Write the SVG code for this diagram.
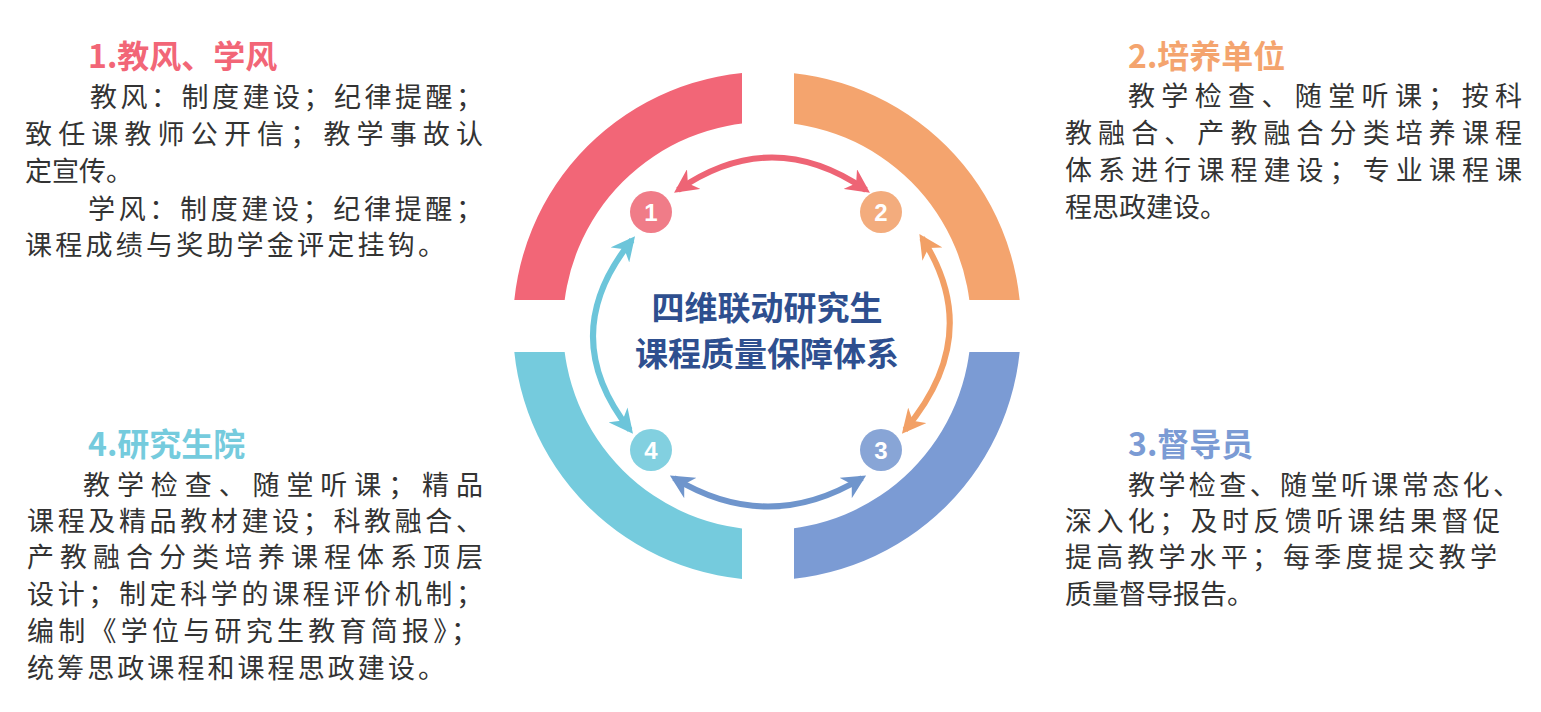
<svg xmlns="http://www.w3.org/2000/svg" width="1541" height="712" viewBox="0 0 1541 712">
<style>
.b{font-family:"Noto Sans CJK SC","Noto Sans",sans-serif;font-size:27px;fill:#333}
.t{font-family:"Noto Sans CJK SC","Noto Sans",sans-serif;font-size:32px;font-weight:bold}
.c{font-family:"Noto Sans CJK SC","Noto Sans",sans-serif;font-size:33px;font-weight:bold;fill:#2E4F8F;text-anchor:middle}
.n{font-family:"Liberation Sans",sans-serif;font-size:24px;font-weight:bold;fill:#fff;text-anchor:middle}
.a{fill:none;stroke-width:6}
</style>
<defs>
<clipPath id="q1"><rect x="0" y="0" width="742" height="300"/></clipPath>
<clipPath id="q2"><rect x="794" y="0" width="800" height="300"/></clipPath>
<clipPath id="q3"><rect x="794" y="352" width="800" height="400"/></clipPath>
<clipPath id="q4"><rect x="0" y="352" width="742" height="400"/></clipPath>
<marker id="mr" viewBox="0 0 10 10" refX="8" refY="5" markerWidth="4" markerHeight="4" orient="auto-start-reverse"><path d="M0,0L10,5L0,10L3,5Z" fill="#EE6475"/></marker>
<marker id="mo" viewBox="0 0 10 10" refX="8" refY="5" markerWidth="4" markerHeight="4" orient="auto-start-reverse"><path d="M0,0L10,5L0,10L3,5Z" fill="#F2A066"/></marker>
<marker id="mb" viewBox="0 0 10 10" refX="8" refY="5" markerWidth="4" markerHeight="4" orient="auto-start-reverse"><path d="M0,0L10,5L0,10L3,5Z" fill="#6F95CC"/></marker>
<marker id="mc" viewBox="0 0 10 10" refX="8" refY="5" markerWidth="4" markerHeight="4" orient="auto-start-reverse"><path d="M0,0L10,5L0,10L3,5Z" fill="#6CC5DA"/></marker>
</defs>
<g id="ring">
<path d="M513,326a254,254 0 1,0 508,0a254,254 0 1,0 -508,0ZM563,326a204,204 0 1,1 408,0a204,204 0 1,1 -408,0Z" fill="#F26677" fill-rule="evenodd" clip-path="url(#q1)"/>
<path d="M513,326a254,254 0 1,0 508,0a254,254 0 1,0 -508,0ZM563,326a204,204 0 1,1 408,0a204,204 0 1,1 -408,0Z" fill="#F4A46E" fill-rule="evenodd" clip-path="url(#q2)"/>
<path d="M513,326a254,254 0 1,0 508,0a254,254 0 1,0 -508,0ZM563,326a204,204 0 1,1 408,0a204,204 0 1,1 -408,0Z" fill="#7B9BD4" fill-rule="evenodd" clip-path="url(#q3)"/>
<path d="M513,326a254,254 0 1,0 508,0a254,254 0 1,0 -508,0ZM563,326a204,204 0 1,1 408,0a204,204 0 1,1 -408,0Z" fill="#75CBDD" fill-rule="evenodd" clip-path="url(#q4)"/>
</g>
<g id="connectors">
<path class="a" stroke="#EE6475" d="M678,190Q772,125 866,190" marker-start="url(#mr)" marker-end="url(#mr)"/>
<path class="a" stroke="#F2A066" d="M922,238Q985,335 905,430" marker-start="url(#mo)" marker-end="url(#mo)"/>
<path class="a" stroke="#6F95CC" d="M674,478Q768,535 862,478" marker-start="url(#mb)" marker-end="url(#mb)"/>
<path class="a" stroke="#6CC5DA" d="M632,240Q555,335 630,430" marker-start="url(#mc)" marker-end="url(#mc)"/>
</g>
<g id="n1"><circle cx="651" cy="212" r="21" fill="#F07C88"/><text class="n" x="651" y="221">1</text></g>
<g id="n2"><circle cx="881" cy="212" r="21" fill="#F3AC7D"/><text class="n" x="881" y="221">2</text></g>
<g id="n3"><circle cx="881" cy="450" r="21" fill="#88A5D6"/><text class="n" x="881" y="459">3</text></g>
<g id="n4"><circle cx="651" cy="450" r="21" fill="#82D0E0"/><text class="n" x="651" y="459">4</text></g>
<g id="center">
<text class="c" x="767" y="320">四维联动研究生</text>
<text class="c" x="767" y="366">课程质量保障体系</text>
</g>
<g id="box1">
<text class="t" x="88" y="68" fill="#F26677">1.教风、学风</text>
<text class="b" x="90" y="107" textLength="393" lengthAdjust="spacing">教风：制度建设；纪律提醒；</text>
<text class="b" x="25" y="144" textLength="458" lengthAdjust="spacing">致任课教师公开信；教学事故认</text>
<text class="b" x="25" y="181">定宣传。</text>
<text class="b" x="88" y="219" textLength="395" lengthAdjust="spacing">学风：制度建设；纪律提醒；</text>
<text class="b" x="25" y="255" textLength="420" lengthAdjust="spacing">课程成绩与奖助学金评定挂钩。</text>
</g>
<g id="box2">
<text class="t" x="1128" y="68" fill="#F4A46E">2.培养单位</text>
<text class="b" x="1128" y="106" textLength="394" lengthAdjust="spacing">教学检查、随堂听课；按科</text>
<text class="b" x="1065" y="143" textLength="457" lengthAdjust="spacing">教融合、产教融合分类培养课程</text>
<text class="b" x="1065" y="180" textLength="457" lengthAdjust="spacing">体系进行课程建设；专业课程课</text>
<text class="b" x="1065" y="217">程思政建设。</text>
</g>
<g id="box3">
<text class="t" x="1128" y="456" fill="#7B9BD4">3.督导员</text>
<text class="b" x="1128" y="495" textLength="392" lengthAdjust="spacing">教学检查、随堂听课常态化、</text>
<text class="b" x="1065" y="531" textLength="435" lengthAdjust="spacing">深入化；及时反馈听课结果督促</text>
<text class="b" x="1065" y="567" textLength="432" lengthAdjust="spacing">提高教学水平；每季度提交教学</text>
<text class="b" x="1065" y="604">质量督导报告。</text>
</g>
<g id="box4">
<text class="t" x="88" y="456" fill="#75CBDD">4.研究生院</text>
<text class="b" x="83" y="495" textLength="400" lengthAdjust="spacing">教学检查、随堂听课；精品</text>
<text class="b" x="27" y="531" textLength="456" lengthAdjust="spacing">课程及精品教材建设；科教融合、</text>
<text class="b" x="27" y="567" textLength="456" lengthAdjust="spacing">产教融合分类培养课程体系顶层</text>
<text class="b" x="27" y="604" textLength="456" lengthAdjust="spacing">设计；制定科学的课程评价机制；</text>
<text class="b" x="27" y="641" textLength="451" lengthAdjust="spacing">编制《学位与研究生教育简报》；</text>
<text class="b" x="27" y="678" textLength="418" lengthAdjust="spacing">统筹思政课程和课程思政建设。</text>
</g>
</svg>
